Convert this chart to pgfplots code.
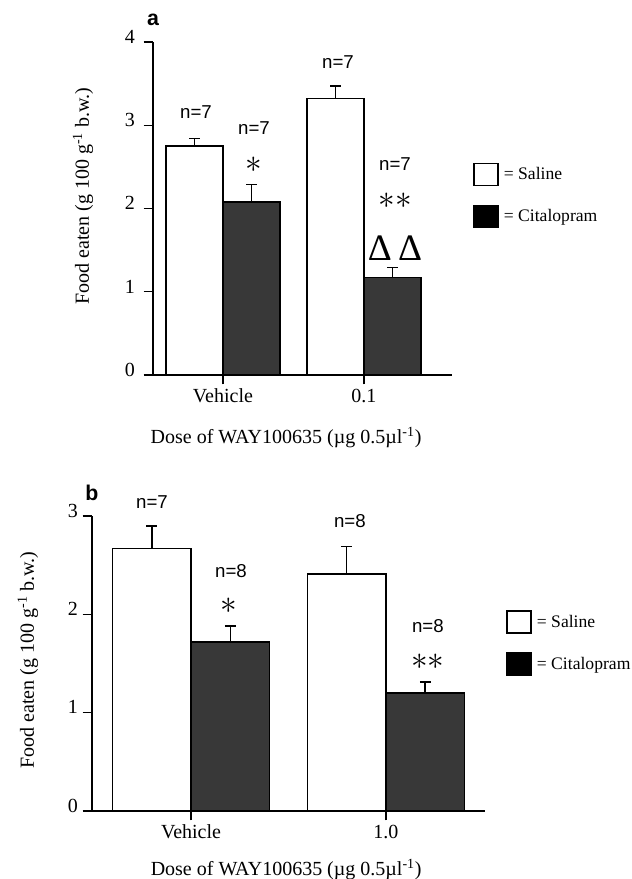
\documentclass[border=0pt]{standalone}
\usepackage{fontspec}
\setmainfont{Liberation Serif}
\setsansfont{Liberation Sans}
\usepackage{pgfplots}
\pgfplotsset{compat=1.18}

\newcommand{\lab}{\fontsize{15}{18}\selectfont}
\newcommand{\nlab}{\sffamily\fontsize{14}{16}\selectfont}
\newcommand{\leglab}{\fontsize{13.2}{16}\selectfont}

\pgfplotsset{
  panel/.style={
    scale only axis, anchor=south west,
    axis x line*=bottom, axis y line*=left,
    axis line style={-, line width=1.2pt, black},
    tick align=outside, major tick length=7pt,
    tick style={line width=1.1pt, black},
    xtick={0,1}, ymin=0, clip=false,
    tick label style={font=\lab},
    label style={font=\lab},
    /pgf/number format/assume math mode=true,
    yticklabel style={yshift=4pt},
    legend style={draw=none, fill=none, font=\leglab, inner sep=0pt,
      anchor=north west, row sep=14pt, legend cell align=left,
      /tikz/every odd column/.append style={column sep=2pt}},
  },
  bars/.style={ybar, bar width=0.404, bar shift=0pt, draw=black,
    line width=1.2pt, forget plot,
    error bars/y dir=plus, error bars/y explicit,
    error bars/error mark=-,
    error bars/error bar style={line width=1.1pt, black},
    error bars/error mark options={rotate=90, line width=1.1pt, mark size=4pt, black}},
  salimg/.style={legend image code/.code={\draw[black, fill=white, line width=1pt] (0pt,-8.25pt) rectangle (18pt,8.25pt);}},
  citimg/.style={legend image code/.code={\draw[black, fill=black, line width=1pt] (0pt,-8.25pt) rectangle (18pt,8.25pt);}},
}
\tikzset{ann/.style={inner sep=0pt, outer sep=0pt}}

\begin{document}
\begin{tikzpicture}
\path[use as bounding box] (0pt,0pt) rectangle (474pt,659.25pt);

% ---------------- Panel a ----------------
\begin{axis}[panel,
  at={(114.75pt,378pt)}, width=224.25pt, height=249.75pt,
  xmin=-0.496, xmax=1.624, ymax=4, ytick={0,1,2,3,4},
  xticklabels={Vehicle,0.1},
  yticklabel style={xshift=-3pt},
  ylabel={Food eaten (g 100 g\textsuperscript{-1} b.w.)},
  ylabel style={at={(axis description cs:-0.234,0.537)}, anchor=center},
  xlabel={Dose of WAY100635 (µg 0.5µl\textsuperscript{-1})},
  xlabel style={at={(axis description cs:0.445,-0.189)}, anchor=center},
  legend style={at={(axis description cs:1.07,0.637)}},
]
\addplot[bars, fill=black!0] table[x=x, y=y, y error=e] {
x y e
-0.202 2.75 0.09
0.798 3.32 0.15
};
\addplot[bars, fill=black!78] table[x=x, y=y, y error=e] {
x y e
0.202 2.08 0.21
1.202 1.17 0.12
};
\addlegendimage{salimg}
\addlegendentry{= Saline}
\addlegendimage{citimg}
\addlegendentry{= Citalopram}
\node[ann, font=\nlab] at (axis cs:-0.191,3.16) {n=7};
\node[ann, font=\nlab] at (axis cs:0.22,2.97) {n=7};
\node[ann, font=\Huge] at (axis cs:0.22,2.52) {$\ast$};
\node[ann, font=\nlab] at (axis cs:0.816,3.76) {n=7};
\node[ann, font=\nlab] at (axis cs:1.22,2.53) {n=7};
\node[ann, font=\Huge] at (axis cs:1.22,2.09) {$\ast\ast$};
\node[ann, font=\fontsize{28}{30}\selectfont] at (axis cs:1.22,1.525) {Δ\,Δ};
\node[ann, font=\sffamily\bfseries\fontsize{16}{18}\selectfont] at (axis description cs:0,1.066) {a};
\end{axis}

% ---------------- Panel b ----------------
\begin{axis}[panel,
  at={(69pt,51pt)}, width=294.75pt, height=221.25pt,
  xmin=-0.508, xmax=1.508, ymax=3, ytick={0,1,2,3},
  xticklabels={Vehicle,1.0},
  ylabel={Food eaten (g 100 g\textsuperscript{-1} b.w.)},
  ylabel style={at={(axis description cs:-0.163,0.512)}, anchor=center},
  xlabel={Dose of WAY100635 (µg 0.5µl\textsuperscript{-1})},
  xlabel style={at={(axis description cs:0.494,-0.2)}, anchor=center},
  legend style={at={(axis description cs:1.0534,0.681)}},
]
\addplot[bars, fill=black!0] table[x=x, y=y, y error=e] {
x y e
-0.2013 2.67 0.23
0.7987 2.41 0.28
};
\addplot[bars, fill=black!78] table[x=x, y=y, y error=e] {
x y e
0.2013 1.72 0.16
1.2013 1.20 0.11
};
\addlegendimage{salimg}
\addlegendentry{= Saline}
\addlegendimage{citimg}
\addlegendentry{= Citalopram}
\node[ann, font=\nlab] at (axis cs:-0.2,3.14) {n=7};
\node[ann, font=\nlab] at (axis cs:0.205,2.44) {n=8};
\node[ann, font=\Huge] at (axis cs:0.195,2.085) {$\ast$};
\node[ann, font=\nlab] at (axis cs:0.815,2.95) {n=8};
\node[ann, font=\nlab] at (axis cs:1.215,1.88) {n=8};
\node[ann, font=\Huge] at (axis cs:1.215,1.515) {$\ast\ast$};
\node[ann, font=\sffamily\bfseries\fontsize{16}{18}\selectfont] at (axis description cs:0,1.078) {b};
\end{axis}
\end{tikzpicture}
\end{document}
